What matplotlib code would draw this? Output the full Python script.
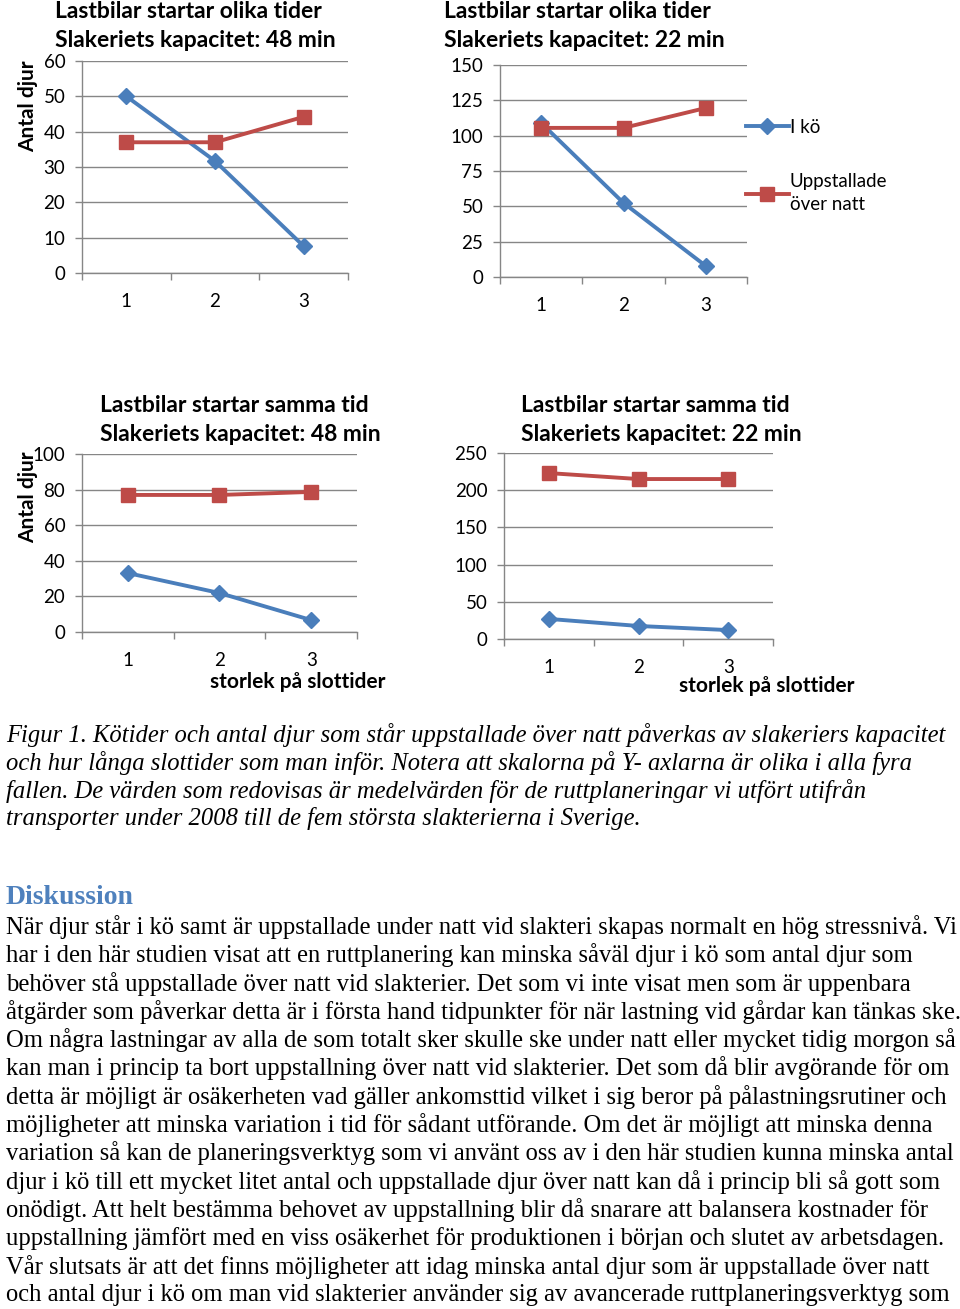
import numpy as np
import matplotlib.pyplot as plt
from matplotlib.ticker import MultipleLocator, FixedLocator

'''
    Data read from the figure
'''
slot_sizes = [1, 2, 3]

# Lastbilar startar olika tider, 48 min
i_ko_olika_48 = [50, 31.7, 7.6]
uppst_olika_48 = [37, 37, 44.2]

# Lastbilar startar olika tider, 22 min
i_ko_olika_22 = [109, 52.4, 7.8]
uppst_olika_22 = [105.5, 105.5, 119.6]

# Lastbilar startar samma tid, 48 min
i_ko_samma_48 = [33.1, 21.9, 6.7]
uppst_samma_48 = [77, 77, 78.7]

# Lastbilar startar samma tid, 22 min
i_ko_samma_22 = [27, 17.5, 12]
uppst_samma_22 = [223, 215, 215]

titles = [
    'Lastbilar startar olika tider\nSlakeriets kapacitet: 48 min',
    'Lastbilar startar olika tider\nSlakeriets kapacitet: 22 min',
    'Lastbilar startar samma tid\nSlakeriets kapacitet: 48 min',
    'Lastbilar startar samma tid\nSlakeriets kapacitet: 22 min',
]
y_max = [60, 150, 100, 250]
y_step = [10, 25, 20, 50]

caption_lines = [
    'Figur 1. Kötider och antal djur som står uppstallade över natt påverkas av slakeriers kapacitet',
    'och hur långa slottider som man inför. Notera att skalorna på Y- axlarna är olika i alla fyra',
    'fallen. De värden som redovisas är medelvärden för de ruttplaneringar vi utfört utifrån',
    'transporter under 2008 till de fem största slakterierna i Sverige.',
]

body_lines = [
    'När djur står i kö samt är uppstallade under natt vid slakteri skapas normalt en hög stressnivå. Vi',
    'har i den här studien visat att en ruttplanering kan minska såväl djur i kö som antal djur som',
    'behöver stå uppstallade över natt vid slakterier. Det som vi inte visat men som är uppenbara',
    'åtgärder som påverkar detta är i första hand tidpunkter för när lastning vid gårdar kan tänkas ske.',
    'Om några lastningar av alla de som totalt sker skulle ske under natt eller mycket tidig morgon så',
    'kan man i princip ta bort uppstallning över natt vid slakterier. Det som då blir avgörande för om',
    'detta är möjligt är osäkerheten vad gäller ankomsttid vilket i sig beror på pålastningsrutiner och',
    'möjligheter att minska variation i tid för sådant utförande. Om det är möjligt att minska denna',
    'variation så kan de planeringsverktyg som vi använt oss av i den här studien kunna minska antal',
    'djur i kö till ett mycket litet antal och uppstallade djur över natt kan då i princip bli så gott som',
    'onödigt. Att helt bestämma behovet av uppstallning blir då snarare att balansera kostnader för',
    'uppstallning jämfört med en viss osäkerhet för produktionen i början och slutet av arbetsdagen.',
    'Vår slutsats är att det finns möjligheter att idag minska antal djur som är uppstallade över natt',
    'och antal djur i kö om man vid slakterier använder sig av avancerade ruttplaneringsverktyg som',
]

'''
    Layout helpers (pixel based)
'''
W, H = 960, 1309
def rect(x0, y0, x1, y1):
    return [x0 / W, 1 - y1 / H, (x1 - x0) / W, (y1 - y0) / H]
def fx(x):
    return x / W
def fy(y):
    return 1 - y / H

blue = '#4a7ebb'
red = '#be4b48'
grey = '#868686'
sans = 'Lato'

fig = plt.figure(figsize=(9.6, 13.09), dpi=100)

rects = [rect(82, 61, 348, 273), rect(500, 65, 747, 277),
         rect(82, 454, 357, 632), rect(504, 453, 773, 639)]
series = [(i_ko_olika_48, uppst_olika_48), (i_ko_olika_22, uppst_olika_22),
          (i_ko_samma_48, uppst_samma_48), (i_ko_samma_22, uppst_samma_22)]
# title first-line positions (left x, centre y)
title_pos = [(55, 11), (444, 11), (100, 405), (521, 405)]

axs = []
for k in range(4):
    ax = fig.add_axes(rects[k])
    blue_vals, red_vals = series[k]
    ax.plot(slot_sizes, blue_vals, '-D', color=blue, lw=2.8, ms=8.5, label='I kö', clip_on=False, zorder=3)
    ax.plot(slot_sizes, red_vals, '-s', color=red, lw=2.8, ms=10.5, label='Uppstallade\növer natt', clip_on=False, zorder=3)

    ax.set_xlim(0.5, 3.5)
    ax.set_ylim(0, y_max[k])
    ax.yaxis.set_major_locator(MultipleLocator(y_step[k]))
    ax.set_xticks(slot_sizes)
    ax.xaxis.set_minor_locator(FixedLocator([0.5, 1.5, 2.5, 3.5]))
    ax.tick_params(axis='x', which='major', length=0, pad=14.5, labelsize=13.5)
    ax.tick_params(axis='x', which='minor', length=5, width=1, color=grey, direction='out')
    ax.tick_params(axis='y', length=5, width=1, color=grey, direction='out', pad=7, labelsize=13.5)
    for lab in ax.get_xticklabels() + ax.get_yticklabels():
        lab.set_family(sans)
    ax.grid(axis='y', color=grey, lw=1)
    ax.set_axisbelow(True)
    for s in ['top', 'right']:
        ax.spines[s].set_visible(False)
    for s in ['left', 'bottom']:
        ax.spines[s].set_color(grey)
        ax.spines[s].set_linewidth(1)

    tx, ty = title_pos[k]
    fig.text(fx(tx), fy(ty + 15), titles[k], ha='left', va='center', fontsize=16.5,
             fontweight='bold', family=sans, linespacing=1.5)
    axs.append(ax)

# y-axis titles
fig.text(fx(28), fy(106), 'Antal djur', rotation=90, ha='center', va='center',
         fontsize=15, fontweight='bold', family=sans)
fig.text(fx(28), fy(497), 'Antal djur', rotation=90, ha='center', va='center',
         fontsize=15, fontweight='bold', family=sans)

# x-axis titles
fig.text(fx(298), fy(682), 'storlek på slottider', ha='center', va='center',
         fontsize=15, fontweight='bold', family=sans)
fig.text(fx(767), fy(686), 'storlek på slottider', ha='center', va='center',
         fontsize=15, fontweight='bold', family=sans)

# legend on the top-right chart
leg = axs[1].legend(loc='upper left', bbox_to_anchor=(fx(729), fy(102)), bbox_transform=fig.transFigure,
                    frameon=False, handlelength=2.3, handletextpad=0.05, labelspacing=2.0,
                    prop={'family': sans, 'size': 13.5})
for t in leg.get_texts():
    t.set_linespacing(1.4)

# caption
for i, line in enumerate(caption_lines):
    fig.text(fx(6), fy(735 + 28 * i), line, ha='left', va='center', fontsize=17.7,
             style='italic', family='Liberation Serif')

# heading
fig.text(fx(6), fy(897), 'Diskussion', ha='left', va='center', fontsize=20,
         fontweight='bold', family='Liberation Serif', color='#4f81bd')

# body text
for i, line in enumerate(body_lines):
    fig.text(fx(6), fy(927 + 28.3 * i), line, ha='left', va='center', fontsize=17.7,
             family='Liberation Serif')

plt.savefig('out.png', dpi=100)
